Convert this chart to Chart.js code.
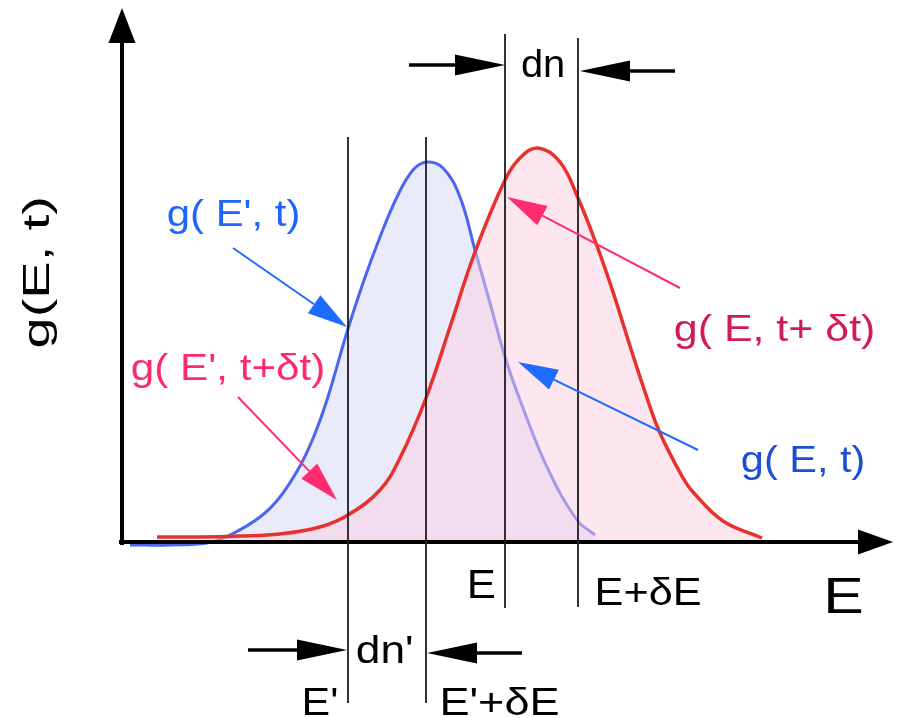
<!DOCTYPE html>
<html>
<head>
<meta charset="utf-8">
<script src="https://cdn.jsdelivr.net/npm/chart.js@4.4.0/dist/chart.umd.min.js"></script>
<style>
  html, body { margin: 0; padding: 0; background: #fff; }
  #grafico { display: block; }
</style>
</head>
<body>
<canvas id="grafico" width="902" height="718"></canvas>
<script>
// Distribuição g(E) no instante t (azul) e t+δt (vermelho)
const azulE = [0.08, 0.48, 0.85, 1.08, 1.38, 1.58, 1.78, 1.92, 2.05, 2.25, 2.41, 2.58, 2.75, 2.91, 3.05, 3.21, 3.38, 3.53, 3.68, 3.83, 3.98, 4.25, 4.55, 4.73];
const azulG = [-0.03, -0.03, -0.01, 0.07, 0.25, 0.45, 0.76, 1.06, 1.42, 2.10, 2.59, 3.05, 3.45, 3.72, 3.80, 3.74, 3.45, 2.92, 2.39, 1.85, 1.42, 0.75, 0.22, 0.07];

const vermE = [0.35, 0.78, 1.18, 1.58, 1.98, 2.26, 2.58, 2.78, 3.04, 3.28, 3.53, 3.83, 3.98, 4.16, 4.38, 4.56, 4.75, 4.91, 5.08, 5.23, 5.38, 5.61, 5.71, 6.01, 6.40];
const vermG = [0.05, 0.05, 0.06, 0.08, 0.15, 0.27, 0.52, 0.84, 1.44, 2.15, 2.90, 3.62, 3.84, 3.94, 3.80, 3.44, 2.96, 2.50, 1.96, 1.50, 1.09, 0.64, 0.50, 0.21, 0.04];

// linhas verticais: E', E'+δE, E, E+δE
const guiaE = [2.26, 3.04, 3.83, 4.56];
const guiaTopo = [4.05, 4.05, 5.08, 5.04];
const guiaBase = [-1.61, -1.61, -0.66, -0.65];

// setas de dimensão dn e dn' (origem -> ponta)
const cotaDe = [[2.87, 4.77], [5.53, 4.71], [1.26, -1.08], [4.00, -1.11]];
const cotaPara = [[3.83, 4.77], [4.58, 4.71], [2.25, -1.08], [3.05, -1.11]];

// setas que ligam os rótulos às curvas
const setaDe = [[1.11, 2.94], [1.16, 1.45], [5.58, 2.54], [5.76, 0.92]];
const setaPara = [[2.25, 2.15], [2.15, 0.42], [3.85, 3.45], [3.96, 1.80]];
const setaCor = ["#1e6bff", "#ff2d70", "#ff2d70", "#1e6bff"];

// limites dos eixos
const eixoFimE = 7.71;
const eixoFimG = 5.34;

const FONTE = '"Liberation Sans", Arial, sans-serif';

// texto, posição (E à esquerda, g na linha de base), largura em unidades de E
const rotulos = [
  { t: "g( E', t)", e: 0.46, g: 3.16, w: 1.30, s: 36, c: "#1e64ff" },
  { t: "g( E', t+δt)", e: 0.10, g: 1.62, w: 1.91, s: 36, c: "#ff2a6a" },
  { t: "g( E, t+ δt)", e: 5.53, g: 2.01, w: 1.98, s: 36, c: "#d21a55" },
  { t: "g( E, t)", e: 6.20, g: 0.70, w: 1.21, s: 36, c: "#1a4fd6" },
  { t: "dn", e: 4.00, g: 4.65, w: 0.41, s: 38, c: "#000" },
  { t: "dn'", e: 2.35, g: -1.21, w: 0.55, s: 38, c: "#000" },
  { t: "E", e: 3.48, g: -0.56, w: 0.24, s: 40, c: "#000" },
  { t: "E+δE", e: 4.76, g: -0.63, w: 1.02, s: 38, c: "#000" },
  { t: "E'", e: 1.83, g: -1.73, w: 0.32, s: 38, c: "#000" },
  { t: "E'+δE", e: 3.21, g: -1.73, w: 1.15, s: 38, c: "#000" },
  { t: "E", e: 7.06, g: -0.71, w: 0.34, s: 50, c: "#000" }
];
const tituloY = { t: "g(E, t)", e: -0.73, g: 1.95, w: 1.49, s: 37, c: "#000" };

const pontos = (xs, ys) => xs.map((x, i) => ({ x, y: ys[i] }));

function seta(ctx, x1, y1, x2, y2, comp, meia, larg, cor) {
  const ang = Math.atan2(y2 - y1, x2 - x1);
  const bx = x2 - comp * Math.cos(ang);
  const by = y2 - comp * Math.sin(ang);
  ctx.save();
  ctx.strokeStyle = cor;
  ctx.fillStyle = cor;
  ctx.lineWidth = larg;
  ctx.beginPath();
  ctx.moveTo(x1, y1);
  ctx.lineTo(bx, by);
  ctx.stroke();
  ctx.beginPath();
  ctx.moveTo(x2, y2);
  ctx.lineTo(bx + meia * Math.sin(ang), by - meia * Math.cos(ang));
  ctx.lineTo(bx - meia * Math.sin(ang), by + meia * Math.cos(ang));
  ctx.closePath();
  ctx.fill();
  ctx.restore();
}

function texto(ctx, r, px, py, largPx, girar) {
  ctx.save();
  ctx.font = `${r.s}px ${FONTE}`;
  ctx.fillStyle = r.c;
  ctx.textBaseline = "alphabetic";
  const m = ctx.measureText(r.t);
  const tinta = m.actualBoundingBoxLeft + m.actualBoundingBoxRight;
  ctx.translate(px, py);
  if (girar) ctx.rotate(-Math.PI / 2);
  ctx.scale(largPx / tinta, 1);
  ctx.fillText(r.t, m.actualBoundingBoxLeft, 0);
  ctx.restore();
}

const desenho = {
  id: "desenho",
  afterDatasetsDraw(chart) {
    const ctx = chart.ctx;
    const sx = chart.scales.x;
    const sy = chart.scales.y;
    const X = v => sx.getPixelForValue(v);
    const Y = v => sy.getPixelForValue(v);

    // eixos com ponta de seta
    seta(ctx, X(0), Y(-0.03), X(0), Y(eixoFimG), 35, 13.5, 4, "#000");
    seta(ctx, X(-0.03), Y(0), X(eixoFimE), Y(0), 35, 12.5, 4, "#000");

    // linhas verticais
    ctx.save();
    ctx.strokeStyle = "#1c1c1c";
    ctx.lineWidth = 1.8;
    guiaE.forEach((e, i) => {
      ctx.beginPath();
      ctx.moveTo(X(e), Y(guiaTopo[i]));
      ctx.lineTo(X(e), Y(guiaBase[i]));
      ctx.stroke();
    });
    ctx.restore();

    cotaDe.forEach((p, i) => {
      const q = cotaPara[i];
      seta(ctx, X(p[0]), Y(p[1]), X(q[0]), Y(q[1]), 50, 10.5, 3.5, "#000");
    });

    setaDe.forEach((p, i) => {
      const q = setaPara[i];
      seta(ctx, X(p[0]), Y(p[1]), X(q[0]), Y(q[1]), 40, 11, 2, setaCor[i]);
    });

    rotulos.forEach(r => {
      texto(ctx, r, X(r.e), Y(r.g), X(r.e + r.w) - X(r.e), false);
    });
    texto(ctx, tituloY, X(tituloY.e), Y(tituloY.g), Y(tituloY.g) - Y(tituloY.g + tituloY.w), true);
  }
};

const ctx = document.getElementById("grafico").getContext("2d");

new Chart(ctx, {
  type: "line",
  data: {
    datasets: [
      {
        label: "g(E, t+δt)",
        data: pontos(vermE, vermG),
        borderColor: "#e8302c",
        borderWidth: 3.5,
        backgroundColor: "rgba(251, 205, 223, 0.5)",
        fill: "origin",
        pointRadius: 0,
        tension: 0.4,
        order: 0
      },
      {
        label: "g(E, t)",
        data: pontos(azulE, azulG),
        borderColor: "#4a66f0",
        borderWidth: 3,
        backgroundColor: "rgba(200, 205, 245, 0.4)",
        fill: "origin",
        pointRadius: 0,
        tension: 0.4,
        order: 1
      }
    ]
  },
  options: {
    responsive: false,
    animation: false,
    devicePixelRatio: 1,
    layout: { padding: 0 },
    plugins: {
      legend: { display: false },
      tooltip: { enabled: false },
      title: { display: false }
    },
    scales: {
      x: { type: "linear", display: false, min: -1.22, max: 7.80 },
      y: { type: "linear", display: false, min: -1.76, max: 5.42 }
    }
  },
  plugins: [desenho]
});
</script>
</body>
</html>
